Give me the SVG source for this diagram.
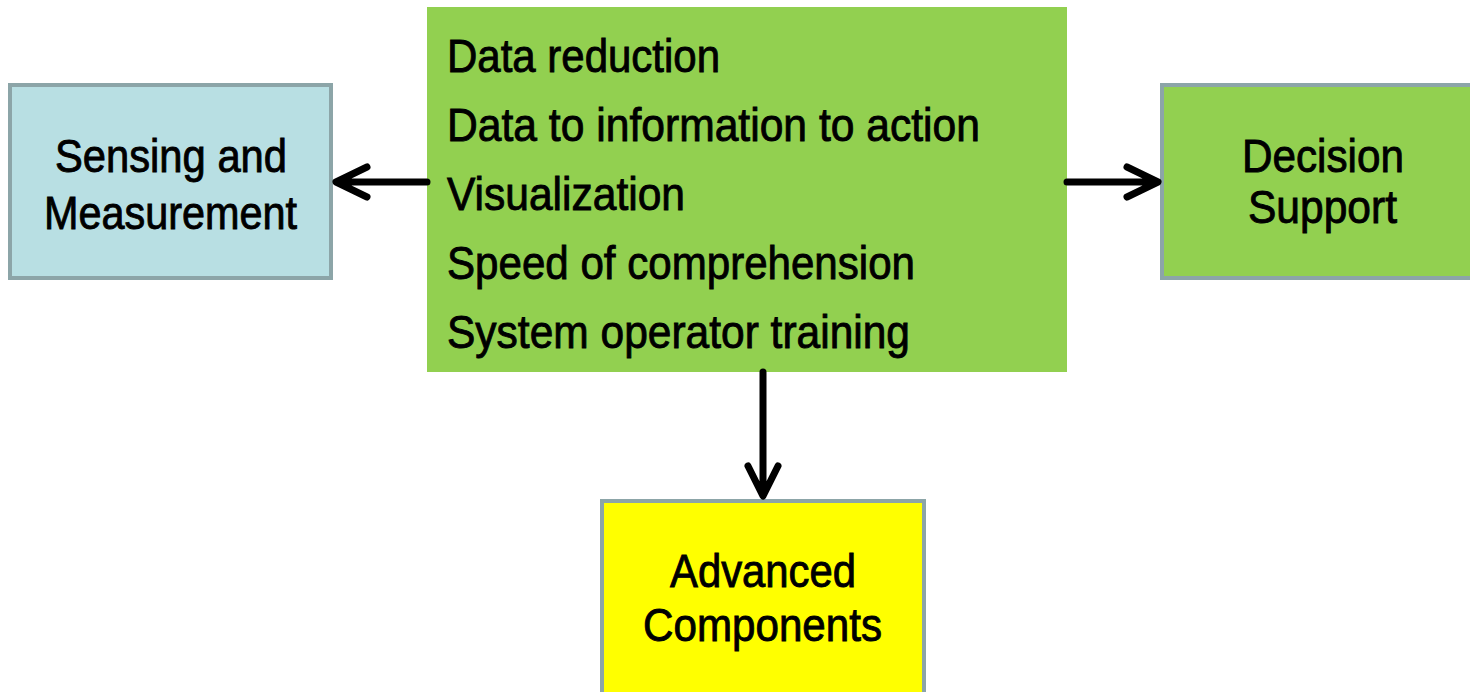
<svg xmlns="http://www.w3.org/2000/svg" width="1470" height="692" viewBox="0 0 1470 692">
  <style>
    .box { stroke: #8ca5a8; stroke-width: 4; }
    .lbl { font-family: "Liberation Sans Narrow", "Liberation Sans", Arial, sans-serif; font-size: 47px; fill: #000; stroke: #000; stroke-width: 0.9; }
    .wire { stroke: #000; stroke-width: 7; fill: none; stroke-linecap: round; stroke-linejoin: round; }
  </style>
  <rect width="1470" height="692" fill="#fff"/>

  <g id="sensing">
    <rect class="box" x="10" y="85" width="321" height="193" fill="#b8dfe3"/>
    <text class="lbl" x="55" y="172" textLength="232" lengthAdjust="spacingAndGlyphs">Sensing and</text>
    <text class="lbl" x="44" y="229" textLength="253" lengthAdjust="spacingAndGlyphs">Measurement</text>
  </g>

  <g id="core">
    <rect x="427" y="7" width="640" height="365" fill="#92d050"/>
    <text class="lbl" x="447" y="72" textLength="273" lengthAdjust="spacingAndGlyphs">Data reduction</text>
    <text class="lbl" x="447" y="141" textLength="533" lengthAdjust="spacingAndGlyphs">Data to information to action</text>
    <text class="lbl" x="447" y="210" textLength="238" lengthAdjust="spacingAndGlyphs">Visualization</text>
    <text class="lbl" x="447" y="279" textLength="468" lengthAdjust="spacingAndGlyphs">Speed of comprehension</text>
    <text class="lbl" x="447" y="348" textLength="463" lengthAdjust="spacingAndGlyphs">System operator training</text>
  </g>

  <g id="decision">
    <rect class="box" x="1162" y="85" width="312" height="193" fill="#92d050"/>
    <text class="lbl" x="1242" y="172" textLength="162" lengthAdjust="spacingAndGlyphs">Decision</text>
    <text class="lbl" x="1248" y="223" textLength="149" lengthAdjust="spacingAndGlyphs">Support</text>
  </g>

  <g id="components">
    <rect class="box" x="602" y="501" width="322" height="195" fill="#ffff00"/>
    <text class="lbl" x="670" y="587" textLength="186" lengthAdjust="spacingAndGlyphs">Advanced</text>
    <text class="lbl" x="643" y="641" textLength="239" lengthAdjust="spacingAndGlyphs">Components</text>
  </g>

  <g id="connectors">
    <path class="wire" d="M427 182 H337 M367 167 L336 182 L367 197"/>
    <path class="wire" d="M1067 182 H1157 M1127 167 L1158 182 L1127 197"/>
    <path class="wire" d="M763 372 V495 M748 466 L763 496 L778 466"/>
  </g>
</svg>
